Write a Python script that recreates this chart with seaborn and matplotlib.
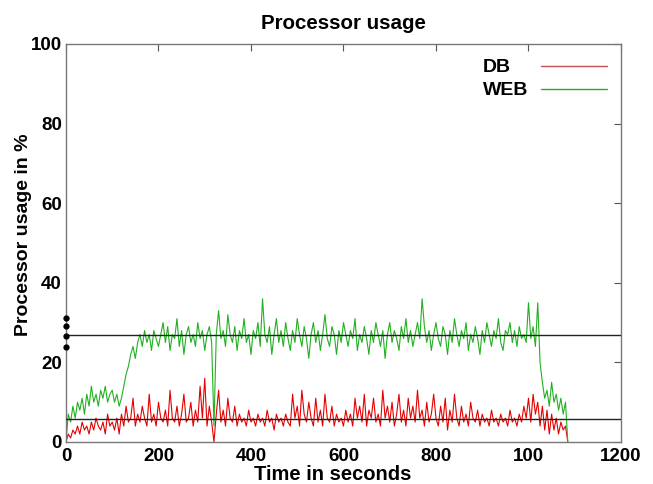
import numpy as np
import pandas as pd
import matplotlib
matplotlib.use("Agg")
import matplotlib.pyplot as plt
import seaborn as sns

# Sampling interval of the monitoring log (seconds)
sample_step = 5

web_usage = [
    0, 7, 5, 9, 6, 10, 8, 11, 7, 12, 9, 14, 10, 12, 9, 13, 11, 14, 10, 12,
    13, 10, 12, 9, 11, 14, 17, 19, 22, 24, 21, 25, 27, 24, 28, 25, 27, 23, 28, 26,
    24, 27, 30, 25, 29, 23, 27, 26, 31, 24, 28, 22, 27, 29, 25, 27, 24, 30, 26, 28,
    23, 27, 29, 25, 4, 27, 33, 26, 28, 24, 32, 27, 25, 29, 23, 28, 26, 31, 25, 27,
    22, 28, 26, 30, 24, 36, 27, 25, 29, 22, 27, 31, 25, 28, 24, 30, 26, 23, 28, 25,
    31, 27, 24, 29, 26, 21, 27, 30, 25, 28, 23, 27, 32, 26, 24, 29, 27, 22, 28, 25,
    30, 27, 24, 28, 26, 31, 23, 27, 25, 29, 26, 22, 28, 25, 30, 27, 24, 28, 21, 27,
    30, 25, 28, 26, 23, 29, 26, 31, 25, 28, 24, 27, 30, 26, 36, 29, 25, 28, 23, 27,
    30, 26, 24, 29, 27, 22, 28, 25, 31, 27, 24, 28, 26, 30, 23, 27, 25, 29, 26, 22,
    28, 25, 30, 27, 24, 28, 26, 31, 25, 23, 28, 27, 30, 25, 28, 24, 29, 26, 27, 25,
    35, 26, 29, 24, 35, 20, 15, 11, 13, 9, 15, 10, 12, 8, 11, 7, 10, 0,
]

db_usage = [
    0, 2, 1, 3, 2, 4, 2, 5, 3, 4, 2, 5, 3, 6, 4, 3, 5, 2, 7, 4,
    5, 3, 6, 2, 7, 4, 9, 5, 6, 11, 4, 7, 5, 9, 6, 4, 12, 5, 7, 4,
    10, 6, 5, 8, 4, 13, 6, 5, 9, 4, 7, 12, 5, 6, 10, 4, 8, 5, 14, 6,
    16, 4, 9, 5, 0, 7, 13, 5, 8, 4, 11, 6, 5, 9, 4, 7, 5, 6, 4, 8,
    5, 6, 4, 7, 5, 6, 4, 8, 5, 6, 3, 7, 5, 6, 4, 7, 5, 4, 12, 6,
    9, 4, 13, 7, 5, 10, 6, 4, 11, 5, 8, 4, 12, 6, 5, 9, 4, 7, 5, 6,
    4, 8, 5, 7, 4, 11, 6, 9, 5, 12, 4, 8, 6, 11, 5, 7, 4, 13, 6, 9,
    5, 10, 4, 7, 12, 5, 8, 4, 11, 6, 9, 5, 13, 6, 8, 4, 10, 5, 7, 12,
    6, 4, 9, 5, 11, 3, 8, 5, 12, 6, 4, 9, 5, 7, 4, 10, 6, 5, 8, 4,
    7, 5, 6, 4, 8, 5, 6, 4, 7, 5, 6, 4, 8, 5, 6, 4, 7, 5, 9, 6,
    11, 5, 12, 7, 10, 4, 9, 3, 8, 2, 7, 3, 6, 2, 5, 3, 4, 0,
]

seconds = list(range(0, sample_step * len(web_usage), sample_step))

# Average load of each tier over the run
web_mean = 26.8
db_mean = 5.7
# Readings marked on the y axis
axis_marks = [31.1, 29.2, 26.7, 23.8]

x_ticks = [0, 200, 400, 600, 800, 1000, 1200]
x_tick_labels = ["0", "200", "400", "600", "800", "100", "1200"]
y_ticks = [0, 20, 40, 60, 80, 100]

tiers = ["DB", "WEB"]
tier_colors = {"DB": "#e60000", "WEB": "#22b022"}
key_colors = {"DB": "#c85050", "WEB": "#22b022"}

df = pd.concat([
    pd.DataFrame({"Time": seconds, "Usage": db_usage, "Tier": "DB"}),
    pd.DataFrame({"Time": seconds, "Usage": web_usage, "Tier": "WEB"}),
])

sns.set_style("white")
plt.rcParams["font.family"] = ["Liberation Sans", "DejaVu Sans"]
plt.rcParams["text.color"] = "black"
plt.rcParams["axes.labelcolor"] = "black"

fig = plt.figure(figsize=(6.53, 4.84), dpi=100)
ax = fig.add_axes([0.101, 0.0868, 0.850, 0.8223])

sns.lineplot(data=df, x="Time", y="Usage", hue="Tier", palette=tier_colors,
             linewidth=0.8, ax=ax, estimator=None, sort=False, legend=False)

ax.axhline(web_mean, color="#222222", linewidth=1.0, zorder=5)
ax.axhline(db_mean, color="#222222", linewidth=1.0, zorder=5)
ax.plot([0] * len(axis_marks), axis_marks, "o", color="black",
        markersize=3.5, clip_on=False, zorder=6)

ax.set_xlim(0, 1200)
ax.set_ylim(0, 100)
ax.set_xticks(x_ticks)
ax.set_xticklabels(x_tick_labels)
ax.set_yticks(y_ticks)
ax.tick_params(direction="in", top=True, right=True, length=5,
               width=0.8, color="#555555", labelsize=13.5, labelcolor="black")
ax.tick_params(axis="x", pad=4)
ax.tick_params(axis="y", pad=3)
for lab in ax.get_xticklabels() + ax.get_yticklabels():
    lab.set_fontweight("bold")
for sp in ax.spines.values():
    sp.set_color("#777777")
    sp.set_linewidth(1.0)

ax.set_title("Processor usage", fontsize=14.8, fontweight="bold", pad=11)
ax.set_xlabel("Time in seconds", fontsize=14.5, fontweight="bold")
ax.xaxis.set_label_coords(0.481, -0.059)
ax.set_ylabel("Processor usage in %", fontsize=14, fontweight="bold")
ax.yaxis.set_label_coords(-0.062, 0.52)

# Key in gnuplot style: label on the left, line sample on the right
key_rows_y = [0.942, 0.884]
for tier, ky in zip(tiers, key_rows_y):
    ax.text(0.751, ky, tier, transform=ax.transAxes, fontsize=14,
            fontweight="bold", va="center", ha="left")
    ax.plot([0.856, 0.974], [ky + 0.003, ky + 0.003], transform=ax.transAxes,
            color=key_colors[tier], linewidth=1.0)

fig.savefig("out.png", dpi=100)
